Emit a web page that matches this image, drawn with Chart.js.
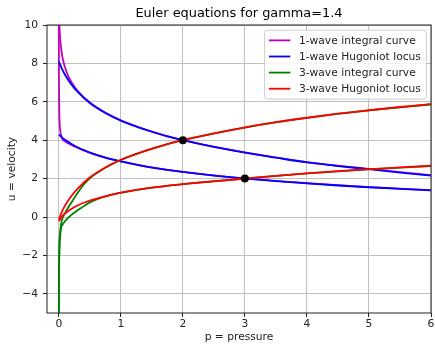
<!DOCTYPE html>
<html>
<head>
<meta charset="utf-8">
<title>Euler equations for gamma=1.4</title>
<script src="https://cdn.jsdelivr.net/npm/chart.js@4.4.1/dist/chart.umd.min.js"></script>
<style>
  html, body { margin: 0; padding: 0; background: #fff; }
  canvas { display: block; }
</style>
</head>
<body>
<canvas id="phasePlane" width="435" height="344"></canvas>
<script>
// Two states in the (p, u) plane
const stateP = [2, 3];
const stateU = [4, 2];

// 1-wave integral curves
const int1aP = [0.0003, 0.002, 0.005, 0.01, 0.02, 0.03, 0.05, 0.07, 0.1, 0.15, 0.2, 0.3, 0.5, 0.75, 1, 1.5, 2, 3, 4, 5, 6];
const int1aU = [12.5, 11.4, 10.6, 10.0, 9.4, 9.0, 8.5, 8.15, 7.8, 7.35, 7.05, 6.58, 5.96, 5.44, 5.04, 4.45, 4.0, 3.36, 2.86, 2.51, 2.18];
const int1bP = [0.0003, 0.001, 0.002, 0.004, 0.008, 0.015, 0.025, 0.04, 0.06, 0.1, 0.15, 0.2, 0.3, 0.5, 0.75, 1, 1.5, 2, 3, 4, 5, 6];
const int1bU = [12.5, 9.5, 8.0, 6.6, 5.5, 4.8, 4.45, 4.22, 4.05, 3.94, 3.84, 3.75, 3.61, 3.35, 3.09, 2.9, 2.58, 2.35, 2.01, 1.76, 1.56, 1.40];

// 1-wave Hugoniot loci
const hug1aP = [0, 0.05, 0.1, 0.2, 0.3, 0.5, 0.75, 1, 1.25, 1.5, 1.75, 2, 2.5, 3, 3.5, 4, 4.5, 5, 5.5, 6];
const hug1aU = [8.10, 7.73, 7.41, 6.92, 6.53, 5.94, 5.42, 5.02, 4.71, 4.44, 4.20, 4.00, 3.65, 3.35, 3.09, 2.84, 2.65, 2.49, 2.31, 2.15];
const hug1bP = [0, 0.05, 0.1, 0.2, 0.3, 0.5, 0.75, 1, 1.5, 2, 2.5, 3, 3.5, 4, 4.5, 5, 5.5, 6];
const hug1bU = [4.29, 4.15, 4.02, 3.81, 3.63, 3.35, 3.09, 2.90, 2.57, 2.35, 2.16, 2.00, 1.87, 1.75, 1.64, 1.55, 1.47, 1.39];

// 3-wave integral curves
const int3aP = [0.0003, 0.002, 0.005, 0.01, 0.02, 0.035, 0.06, 0.1, 0.15, 0.2, 0.3, 0.4, 0.5, 0.75, 1, 1.5, 2, 3, 4, 5, 6];
const int3aU = [-12.5, -3.5, -2.2, -1.4, -0.85, -0.4, -0.05, 0.2, 0.48, 0.74, 1.24, 1.68, 2.02, 2.56, 2.97, 3.55, 4.0, 4.66, 5.16, 5.55, 5.86];
const int3bP = [0.0003, 0.002, 0.005, 0.01, 0.02, 0.04, 0.07, 0.1, 0.15, 0.2, 0.26, 0.36, 0.5, 0.75, 1, 1.5, 2, 3, 4, 5, 6];
const int3bU = [-12.5, -3.8, -2.5, -1.7, -1.05, -0.55, -0.35, -0.22, -0.05, 0.1, 0.25, 0.47, 0.76, 1.07, 1.26, 1.53, 1.71, 2.0, 2.27, 2.48, 2.65];

// 3-wave Hugoniot loci
const hug3aP = [0, 0.05, 0.1, 0.2, 0.3, 0.5, 0.75, 1, 1.25, 1.5, 1.75, 2, 2.5, 3, 3.5, 4, 4.5, 5, 5.5, 6];
const hug3aU = [-0.12, 0.27, 0.59, 1.08, 1.47, 2.06, 2.58, 2.98, 3.29, 3.56, 3.80, 4.00, 4.35, 4.67, 4.94, 5.17, 5.38, 5.56, 5.73, 5.88];
const hug3bP = [0, 0.05, 0.1, 0.2, 0.3, 0.5, 0.75, 1, 1.5, 2, 2.5, 3, 3.5, 4, 4.5, 5, 5.5, 6];
const hug3bU = [-0.22, 0.02, 0.18, 0.42, 0.60, 0.86, 1.08, 1.27, 1.53, 1.71, 1.86, 2.00, 2.14, 2.27, 2.39, 2.49, 2.58, 2.67];

// Axis ticks
const pTicks = [0, 1, 2, 3, 4, 5, 6];
const uTicks = [-4, -2, 0, 2, 4, 6, 8, 10];

const MAGENTA = '#bf00bf';
const BLUE = '#0000ff';
const GREEN = '#008000';
const RED = '#ff0000';
const FONT = '"DejaVu Sans", "Liberation Sans", sans-serif';
const FS = 10.7;
const LINE_W = 1.8;

const legendItems = [
  { label: '1-wave integral curve', color: MAGENTA },
  { label: '1-wave Hugoniot locus', color: BLUE },
  { label: '3-wave integral curve', color: GREEN },
  { label: '3-wave Hugoniot locus', color: RED },
];

const toPoints = (ps, us) => ps.map((p, i) => ({ x: p, y: us[i] }));

// drawn back to front: magenta, blue, green, red, then the states
const curves = [
  { p: int1aP, u: int1aU, color: MAGENTA, order: 8 },
  { p: int1bP, u: int1bU, color: MAGENTA, order: 7 },
  { p: hug1aP, u: hug1aU, color: BLUE, order: 6 },
  { p: hug1bP, u: hug1bU, color: BLUE, order: 5 },
  { p: int3aP, u: int3aU, color: GREEN, order: 4 },
  { p: int3bP, u: int3bU, color: GREEN, order: 3 },
  { p: hug3aP, u: hug3aU, color: RED, order: 2 },
  { p: hug3bP, u: hug3bU, color: RED, order: 1 },
];

const datasets = curves.map(c => ({
  data: toPoints(c.p, c.u),
  showLine: true,
  borderColor: c.color,
  borderWidth: LINE_W,
  pointRadius: 0,
  pointHitRadius: 0,
  cubicInterpolationMode: 'monotone',
  clip: 0,
  order: c.order,
}));

datasets.push({
  data: toPoints(stateP, stateU),
  showLine: false,
  pointRadius: 4,
  pointBackgroundColor: '#000',
  pointBorderColor: '#000',
  pointBorderWidth: 0,
  order: 0,
});

// axes frame on all four sides
const axesFrame = {
  id: 'axesFrame',
  afterDatasetsDraw(chart) {
    const { ctx, chartArea: a } = chart;
    ctx.save();
    ctx.strokeStyle = '#222';
    ctx.lineWidth = 1;
    ctx.strokeRect(a.left, a.top, a.right - a.left, a.bottom - a.top);
    ctx.restore();
  },
};

const plotTitle = {
  id: 'plotTitle',
  afterDraw(chart) {
    const { ctx, chartArea: a } = chart;
    ctx.save();
    ctx.font = `12.9px ${FONT}`;
    ctx.fillStyle = '#000';
    ctx.textAlign = 'center';
    ctx.textBaseline = 'alphabetic';
    ctx.fillText('Euler equations for gamma=1.4', (a.left + a.right) / 2, 17.4);
    ctx.restore();
  },
};

const boxLegend = {
  id: 'boxLegend',
  afterDraw(chart) {
    const { ctx, chartArea: a } = chart;
    ctx.save();
    ctx.font = `${FS}px ${FONT}`;
    const textW = Math.max(...legendItems.map(it => ctx.measureText(it.label).width));
    const pad = 4.3, handle = 21.4, gap = 8.6, rowH = 16.1;
    const w = pad + handle + gap + textW + 5.4;
    const h = (legendItems.length - 1) * rowH + 20.6;
    const right = a.right - 4.7;
    const left = right - w;
    const top = a.top + 5.2;

    ctx.beginPath();
    if (ctx.roundRect) ctx.roundRect(left, top, w, h, 2.5);
    else ctx.rect(left, top, w, h);
    ctx.fillStyle = 'rgba(255,255,255,0.8)';
    ctx.fill();
    ctx.strokeStyle = '#cccccc';
    ctx.lineWidth = 1;
    ctx.stroke();

    ctx.textAlign = 'left';
    ctx.textBaseline = 'middle';
    legendItems.forEach((it, i) => {
      const y = top + 10.2 + i * rowH;
      ctx.beginPath();
      ctx.moveTo(left + pad, y);
      ctx.lineTo(left + pad + handle, y);
      ctx.strokeStyle = it.color;
      ctx.lineWidth = LINE_W;
      ctx.stroke();
      ctx.fillStyle = '#222';
      ctx.fillText(it.label, left + pad + handle + gap, y + 0.5);
    });
    ctx.restore();
  },
};

const minusSign = v => (v < 0 ? '\u2212' + Math.abs(v) : String(v));

Chart.defaults.font.family = FONT;
Chart.defaults.font.size = FS;
Chart.defaults.color = '#222';

new Chart(document.getElementById('phasePlane'), {
  type: 'scatter',
  data: { datasets },
  options: {
    responsive: false,
    animation: false,
    events: [],
    layout: { padding: { top: 25, right: 3, left: 0, bottom: 0 } },
    scales: {
      x: {
        type: 'linear',
        min: -0.19,
        max: 6,
        afterBuildTicks: s => { s.ticks = pTicks.map(v => ({ value: v })); },
        afterFit: s => { s.height = 31; s.paddingLeft = 0; s.paddingRight = 0; },
        ticks: { padding: 1, maxRotation: 0, autoSkip: false, callback: minusSign, color: '#222' },
        grid: { color: '#c0c0c0', lineWidth: 1, tickColor: '#222', tickLength: 4, tickWidth: 1 },
        border: { display: false },
        title: { display: true, text: 'p = pressure', color: '#222', font: { size: FS }, padding: { top: 0, bottom: 0 } },
      },
      y: {
        type: 'linear',
        min: -5,
        max: 10,
        afterBuildTicks: s => { s.ticks = uTicks.map(v => ({ value: v })); },
        afterFit: s => { s.width = 47; s.paddingTop = 0; s.paddingBottom = 0; },
        ticks: { padding: 5, autoSkip: false, callback: minusSign, color: '#222' },
        grid: { color: '#c0c0c0', lineWidth: 1, tickColor: '#222', tickLength: 4, tickWidth: 1 },
        border: { display: false },
        title: { display: true, text: 'u = velocity', color: '#222', font: { size: FS }, padding: { top: 6, bottom: 0 } },
      },
    },
    plugins: {
      legend: { display: false },
      tooltip: { enabled: false },
      title: { display: false },
    },
  },
  plugins: [axesFrame, plotTitle, boxLegend],
});
</script>
</body>
</html>
